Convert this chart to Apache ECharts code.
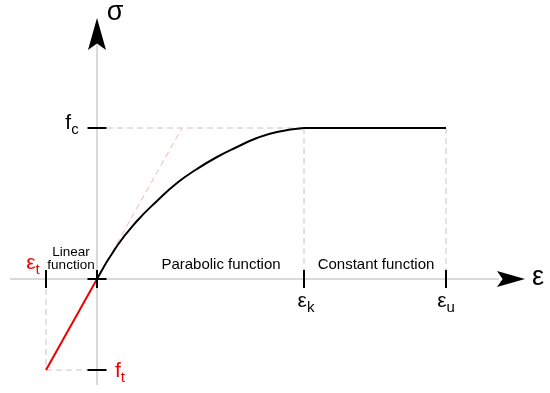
<!DOCTYPE html>
<html>
<head>
<meta charset="utf-8">
<script src="https://cdn.jsdelivr.net/npm/echarts@6/dist/echarts.min.js"></script>
<style>html,body{margin:0;padding:0;background:#fff}#c{width:550px;height:393px}</style>
</head>
<body>
<div id="c"></div>
<script>
// ---- data (arbitrary units) ----
const strainKey = { t: -51, k: 207, u: 349 };      // εt, εk, εu
const stressKey = { c: 151, t: -91 };               // fc, ft
const curveStrain = [0, 20, 40, 60, 80, 100, 120, 140, 160, 180, 207];
const curveStress = [0, 33, 58, 78, 96, 110, 122, 132, 141, 147, 151];
const tangentEnd = [85, 151];
const xAxisRange = [-87, 402];
const yAxisRange = [-106, 235];
const xArrowAt = [414, 0];
const yArrowAt = [0, 245];
const axisNames = [{ text: 'ε', at: [441, 1] }, { text: 'σ', at: [18, 266] }];
const regionLabels = [
  { text: 'Linear\nfunction', at: [-26, 20], size: 13.5 },
  { text: 'Parabolic function', at: [124, 14], size: 15 },
  { text: 'Constant function', at: [279, 14], size: 15 }
];
const keyLabels = [
  { main: 'f', sub: 'c', at: [-25, 154], color: '#000' },
  { main: 'ε', sub: 't', at: [-64, 14], color: '#ee0000' },
  { main: 'f', sub: 't', at: [23, -94], color: '#ee0000' },
  { main: 'ε', sub: 'k', at: [209, -24], color: '#000' },
  { main: 'ε', sub: 'u', at: [349, -24], color: '#000' }
];

// ---- chart ----
const chart = echarts.init(document.getElementById('c'), null, { renderer: 'canvas' });
const FONT = "'Liberation Sans', Arial, sans-serif";

function seg(points, color, width, type) {
  return {
    type: 'line', data: points, symbol: 'none', silent: true, z: 2,
    lineStyle: { color: color, width: width, type: type || 'solid' }
  };
}

const series = [];
// axes
series.push(seg([[xAxisRange[0], 0], [xAxisRange[1], 0]], '#b4b4b4', 1));
series.push(seg([[0, yAxisRange[0]], [0, yAxisRange[1]]], '#b4b4b4', 1));
// grey dashed guides
const dashC = '#c4c4c4';
series.push(seg([[0, stressKey.c], [strainKey.k, stressKey.c]], dashC, 1, [6, 4]));
series.push(seg([[strainKey.k, stressKey.c], [strainKey.k, 0]], dashC, 1, [6, 4]));
series.push(seg([[strainKey.u, stressKey.c], [strainKey.u, 0]], dashC, 1, [6, 4]));
series.push(seg([[strainKey.t, 0], [strainKey.t, stressKey.t]], dashC, 1, [6, 4]));
series.push(seg([[strainKey.t, stressKey.t], [0, stressKey.t]], dashC, 1, [6, 4]));
// pink tangent
series.push(seg([[0, 0], tangentEnd], '#f5b5b5', 1, [6, 4]));
// parabolic curve
const curve = seg(curveStrain.map((x, i) => [x, curveStress[i]]), '#000', 2);
curve.smooth = 0.5; curve.z = 4;
series.push(curve);
// constant part
const cst = seg([[strainKey.k, stressKey.c], [strainKey.u, stressKey.c]], '#000', 2.2);
cst.z = 4; series.push(cst);
// linear (tension) part
const lin = seg([[strainKey.t, stressKey.t], [0, 0]], '#ee0000', 2);
lin.z = 4; series.push(lin);

// ticks
const solid = { color: '#000', opacity: 1 };
const vTicks = [[strainKey.t, 0], [0, 0], [strainKey.k, 0], [strainKey.u, 0]];
const hTicks = [[0, 0], [0, stressKey.c], [0, stressKey.t]];
series.push({ type: 'scatter', data: vTicks, symbol: 'rect', symbolSize: [2, 18], itemStyle: solid, silent: true, z: 5 });
series.push({ type: 'scatter', data: hTicks, symbol: 'rect', symbolSize: [19, 2], itemStyle: solid, silent: true, z: 5 });

// arrowheads
const arrowPath = 'path://M0,0L30,9L0,18L6,9Z';
series.push({ type: 'scatter', data: [xArrowAt], symbol: arrowPath, symbolSize: [28, 16], itemStyle: solid, silent: true, z: 6 });
series.push({ type: 'scatter', data: [yArrowAt], symbol: arrowPath, symbolSize: [32, 18], symbolRotate: 90, itemStyle: solid, silent: true, z: 6 });

// axis names
series.push({
  type: 'scatter', symbolSize: 0, silent: true, z: 7, itemStyle: solid,
  data: axisNames.map(a => ({ value: a.at, name: a.text })),
  label: { show: true, position: 'inside', formatter: p => p.name, color: '#000', fontSize: 27, fontFamily: FONT }
});
// region labels
series.push({
  type: 'scatter', symbolSize: 0, silent: true, z: 7, itemStyle: solid,
  data: regionLabels.map(a => ({ value: a.at, name: a.text,
    label: { fontSize: a.size, lineHeight: a.size } })),
  label: { show: true, position: 'inside', formatter: p => p.name, color: '#000', fontFamily: FONT }
});
// key labels with subscripts
series.push({
  type: 'scatter', symbolSize: 0, silent: true, z: 7, itemStyle: solid,
  data: keyLabels.map(a => ({
    value: a.at, name: a.main + '|' + a.sub,
    label: { rich: {
      m: { fontSize: 21, color: a.color, fontFamily: FONT, lineHeight: 24, verticalAlign: 'top' },
      s: { fontSize: 15, color: a.color, fontFamily: FONT, lineHeight: 15, verticalAlign: 'bottom' }
    } }
  })),
  label: {
    show: true, position: 'inside',
    formatter: p => { const s = p.name.split('|'); return '{m|' + s[0] + '}{s|' + s[1] + '}'; }
  }
});

chart.setOption({
  animation: false,
  backgroundColor: '#fff',
  grid: { left: 0, right: 0, top: 0, bottom: 0 },
  xAxis: { type: 'value', min: -97, max: 453, show: false },
  yAxis: { type: 'value', min: -114, max: 279, show: false },
  series: series
});
</script>
</body>
</html>
